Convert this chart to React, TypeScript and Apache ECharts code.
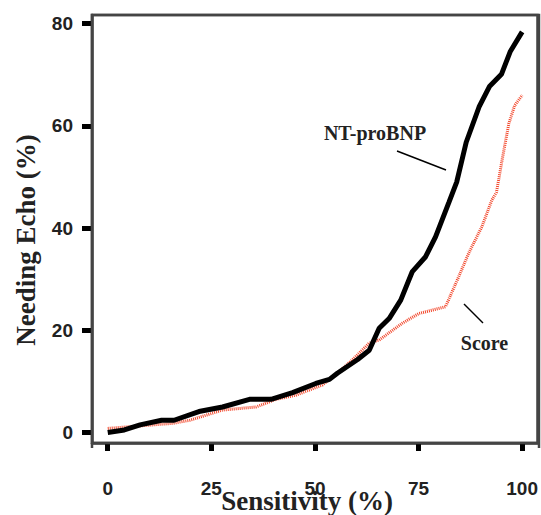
import React, { useEffect, useRef } from "react";
import * as echarts from "echarts";

const xTicks = [0, 25, 50, 75, 100];
const yTicks = [0, 20, 40, 60, 80];
const xTitle = "Sensitivity (%)";
const yTitle = "Needing Echo (%)";

const ntProBNP: [number, number][] = [
  [0, 0], [4, 0.5], [7.8, 1.5], [13, 2.4], [16, 2.4], [22, 4.1], [27.7, 5.0],
  [34.2, 6.5], [39.4, 6.5], [44.6, 7.8], [50.2, 9.6], [53.5, 10.4], [55.4, 11.6],
  [60.3, 14.3], [63.1, 16.1], [65.5, 20.4], [67.9, 22.3], [70.7, 25.9], [73.5, 31.5],
  [76.7, 34.4], [79.1, 38.3], [82.3, 45], [84.2, 49], [86.5, 56.8], [89.6, 63.7],
  [92.1, 67.7], [95, 70.1], [97.1, 74.5], [100, 78.4],
];

const score: [number, number][] = [
  [0, 0.8], [7.8, 1.3], [15.7, 1.8], [19.8, 2.4], [27.7, 4.4], [35.8, 5.0],
  [40.6, 6.5], [45.4, 7.3], [51.8, 9.3], [55.4, 11.6], [59.4, 14.5], [63.1, 17.5],
  [65.5, 18.1], [71.1, 21.4], [75.1, 23.3], [81.5, 24.6], [84.7, 30.5], [87.1, 35.1],
  [90.3, 40.3], [92.7, 45.5], [93.8, 47], [95.2, 53.5], [96.8, 60.5], [98.2, 64], [100, 66],
];

export default function App() {
  const ref = useRef<HTMLDivElement>(null);
  useEffect(() => {
    if (!ref.current) return;
    const chart = echarts.init(ref.current, null, { renderer: "svg" });
    const tickLabel = () => ({ fontFamily: "Liberation Sans", fontWeight: "bold" as const, fontSize: 19, color: "#222" });
    const titleFont = { fontFamily: "Liberation Serif", fontWeight: "bold", fontSize: 27, fill: "#222", align: "center", verticalAlign: "middle" };
    chart.setOption({
      animation: false,
      backgroundColor: "#fff",
      grid: {
        left: 92, top: 15, right: 2, bottom: 72,
        show: true, borderColor: "#444", borderWidth: 2.5, backgroundColor: "transparent",
      },
      xAxis: {
        type: "value", min: -3.8, max: 103.7, position: "bottom",
        splitLine: { show: false },
        axisLine: { show: true, onZero: false, lineStyle: { color: "#444", width: 2.5 } },
        axisTick: { show: true, inside: false, length: 8, lineStyle: { color: "#000", width: 5 }, customValues: xTicks },
        axisLabel: { ...tickLabel(), margin: 36, customValues: xTicks },
      },
      yAxis: {
        type: "value", min: -2.05, max: 81.7, position: "left",
        splitLine: { show: false },
        axisLine: { show: true, onZero: false, lineStyle: { color: "#444", width: 2.5 } },
        axisTick: { show: true, inside: false, length: 10, lineStyle: { color: "#000", width: 5 }, customValues: yTicks },
        axisLabel: { ...tickLabel(), margin: 19, customValues: yTicks },
      },
      series: [
        {
          name: "Score", type: "line", data: score, showSymbol: false, symbol: "none",
          lineStyle: { color: "#f2462a", width: 3, type: [1, 1] }, z: 2,
        },
        {
          name: "NT-proBNP", type: "line", data: ntProBNP, showSymbol: false, symbol: "none",
          lineStyle: { color: "#000", width: 5 }, z: 3,
        },
      ],
      graphic: [
        { type: "polyline", shape: { points: [[92, 448], [92, 15], [539, 15], [539, 448]] }, style: { stroke: "#444", lineWidth: 2.5, fill: null }, z: 20 },
        { type: "polyline", shape: { points: [[92, 443], [539, 443]] }, style: { stroke: "#444", lineWidth: 2.5, fill: null }, z: 20 },
        { type: "text", x: 307, y: 501, style: { text: xTitle, ...titleFont } },
        { type: "text", x: 26, y: 240, rotation: Math.PI / 2, style: { text: yTitle, ...titleFont } },
        { type: "text", x: 375, y: 133, style: { text: "NT-proBNP", fontFamily: "Liberation Serif", fontWeight: "bold", fontSize: 20, fill: "#222", align: "center", verticalAlign: "middle" } },
        { type: "line", shape: { x1: 397, y1: 151, x2: 446, y2: 170 }, style: { stroke: "#000", lineWidth: 1.5 } },
        { type: "text", x: 484.5, y: 343, style: { text: "Score", fontFamily: "Liberation Serif", fontWeight: "bold", fontSize: 20, fill: "#222", align: "center", verticalAlign: "middle" } },
        { type: "line", shape: { x1: 464, y1: 304, x2: 483, y2: 323 }, style: { stroke: "#000", lineWidth: 1.5 } },
      ],
    });
    return () => chart.dispose();
  }, []);
  return <div ref={ref} style={{ position: "fixed", left: 0, top: 0, width: 541, height: 515 }} />;
}
